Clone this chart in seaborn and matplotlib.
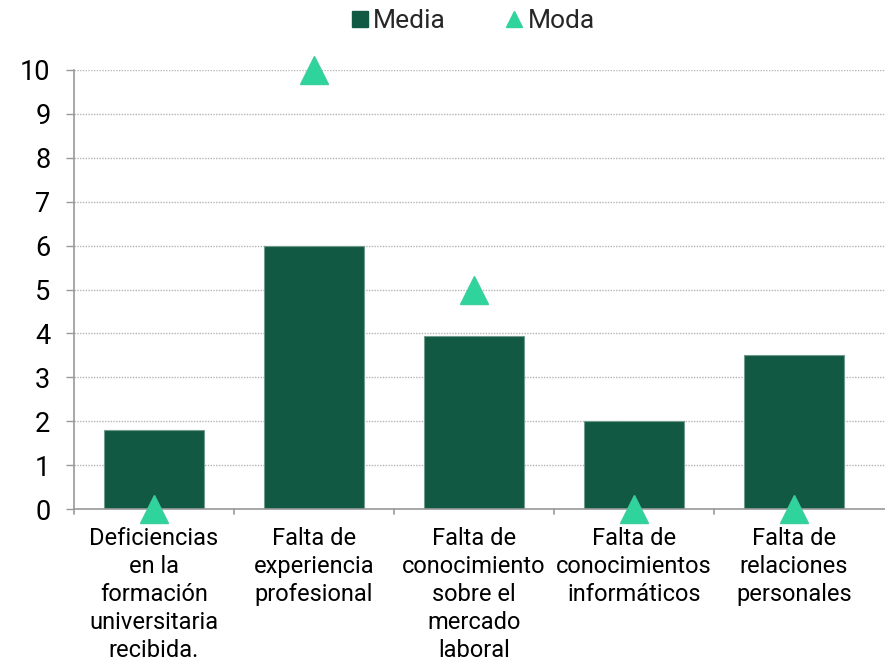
import matplotlib
matplotlib.use("Agg")
import matplotlib.pyplot as plt
import seaborn as sns
import pandas as pd
from matplotlib.lines import Line2D

categorias = [
    "Deficiencias\nen la\nformación\nuniversitaria\nrecibida.",
    "Falta de\nexperiencia\nprofesional",
    "Falta de\nconocimiento\nsobre el\nmercado\nlaboral",
    "Falta de\nconocimientos\ninformáticos",
    "Falta de\nrelaciones\npersonales",
]
media = [1.8, 6.0, 3.95, 2.0, 3.5]
moda = [0, 10, 5, 0, 0]
yticks = list(range(0, 11))

bar_color = "#125943"
tri_color = "#2fd49c"

sns.set_theme(style="white")
plt.rcParams["font.family"] = ["Roboto", "DejaVu Sans"]

df = pd.DataFrame({"categoria": categorias, "media": media, "moda": moda})

fig = plt.figure(figsize=(8.85, 6.64), dpi=100)
ax = fig.add_axes([74 / 885, 1 - 509 / 664, (885 - 74) / 885, (509 - 70) / 664])

sns.barplot(data=df, x="categoria", y="media", color=bar_color, width=0.625,
            saturation=1, edgecolor="#6f9a8c", linewidth=0.8, ax=ax, zorder=2)
ax.plot(range(len(categorias)), df["moda"], linestyle="none", marker="^",
        markersize=20, color=tri_color, markeredgecolor="#3ccf9b", zorder=4, clip_on=False)

ax.set_xlim(-0.5, 4.5 + 11 / 160)
ax.set_ylim(0, 10)
ax.set_yticks(yticks)
ax.set_yticklabels([str(v) for v in yticks], fontsize=19.5, color="#000000")
ax.yaxis.grid(True, linestyle=(0, (1, 1)), color="#b5b5b5", linewidth=1, zorder=0)
ax.set_axisbelow(True)
ax.set_xlabel("")
ax.set_ylabel("")

ax.set_xticks(range(len(categorias)))
ax.set_xticklabels(categorias, fontsize=17, color="#000000", linespacing=1.28, va="top")
ax.tick_params(axis="x", length=0, pad=13)
for b in [-0.5, 0.5, 1.5, 2.5, 3.5]:
    ax.plot([b, b], [0, -0.12], color="#999999", linewidth=1.2, clip_on=False, zorder=1)
ax.tick_params(axis="y", length=6, color="#999999", width=1, left=True, pad=11)

for s in ["top", "right"]:
    ax.spines[s].set_visible(False)
for s in ["left", "bottom"]:
    ax.spines[s].set_color("#999999")
    ax.spines[s].set_linewidth(1.2)

handles = [
    Line2D([0], [0], marker="s", linestyle="none", markersize=11, color=bar_color, label="Media"),
    Line2D([0], [0], marker="^", linestyle="none", markersize=12, color=tri_color, label="Moda"),
]
fig.legend(handles=handles, loc="center", bbox_to_anchor=(472 / 885, 1 - 21 / 664), ncol=2,
           frameon=False, fontsize=19, handletextpad=0.1, columnspacing=2.2, handlelength=0.8)

fig.savefig("out.png", dpi=100)
